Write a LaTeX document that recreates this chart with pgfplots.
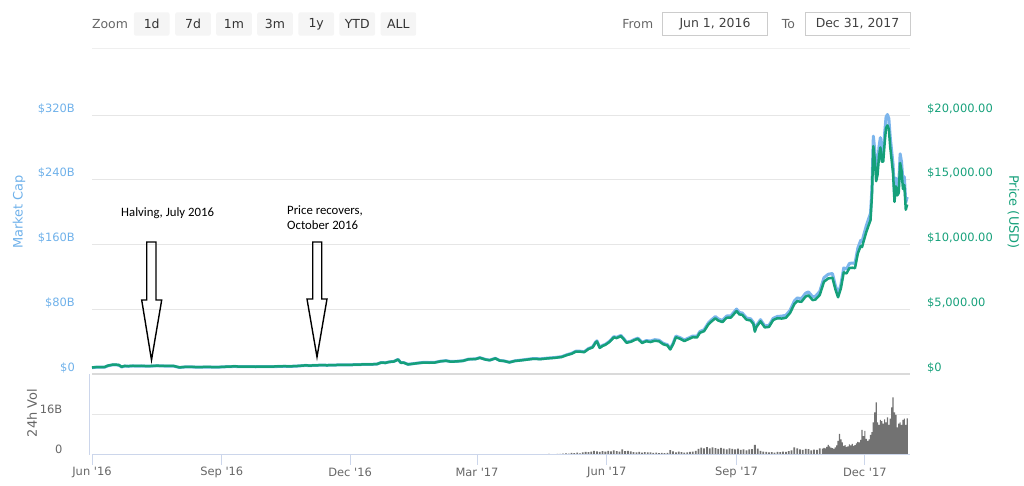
\documentclass[border=0pt]{standalone}
\usepackage{pgfplots}
\pgfplotsset{compat=1.18}
\usepackage{pgfplotstable}
\usepackage{fontspec}
\setmainfont{DejaVu Sans}
\newfontfamily\carlito{Carlito}
\definecolor{capblue}{HTML}{7CB5EC}
\definecolor{capbluetxt}{HTML}{6FB1EA}
\definecolor{pricegreen}{HTML}{15A07A}
\definecolor{gridgray}{HTML}{E6E6E6}
\definecolor{axisblue}{HTML}{CCD6EB}
\definecolor{labelgray}{HTML}{666666}
\definecolor{btnfill}{HTML}{F5F5F5}
\definecolor{boxborder}{HTML}{CCCCCC}
\definecolor{volgray}{HTML}{727272}
\definecolor{sepgray}{HTML}{EFEFEF}
\definecolor{topline}{HTML}{DADADA}

\pgfplotstableread{
day price cap
0 537 8.40
3 573 8.97
6 577 9.03
9 577 9.03
11 672 10.52
12 700 10.96
15 766 11.99
17 757 11.85
19 735 11.50
21 592 9.26
23 657 10.28
26 648 10.14
29 673 10.53
32 658 10.30
35 670 10.49
38 651 10.29
42 655 10.35
46 679 10.73
50 665 10.51
54 655 10.35
58 655 10.35
62 547 8.64
66 587 9.27
70 591 9.34
75 568 8.97
80 581 9.18
85 577 9.12
90 575 9.09
96 606 9.64
101 623 9.91
106 607 9.65
111 609 9.68
116 600 9.54
121 609 9.68
126 612 9.73
131 618 9.83
136 638 10.14
141 630 10.02
146 657 10.45
151 700 11.13
155 688 11.01
159 710 11.36
163 716 11.46
167 711 11.38
172 730 11.68
177 736 11.78
182 745 11.92
187 755 12.08
192 774 12.38
197 779 12.46
202 800 12.80
205 921 14.74
208 900 14.40
211 975 15.60
214 998 16.12
217 1154 18.64
219 903 14.58
221 911 14.71
224 777 12.55
227 818 13.21
231 873 14.10
235 922 14.89
239 915 14.78
243 921 14.87
247 1013 16.36
251 1055 17.04
254 996 16.09
258 1003 16.20
263 1049 16.94
267 1172 18.93
272 1190 19.22
275 1286 20.77
279 1150 18.57
282 1099 17.75
286 1241 20.04
289 1072 17.31
292 1041 16.81
296 937 15.13
300 1045 16.88
304 1086 17.70
308 1140 18.58
313 1207 19.67
318 1184 19.30
323 1240 20.21
328 1281 20.88
333 1348 21.97
337 1507 24.56
340 1597 26.03
343 1762 28.72
346 1760 28.69
349 1723 28.08
352 1962 31.98
355 2091 34.08
357 2450 39.94
358 2550 41.57
360 2052 33.45
362 2199 35.84
364 2287 37.28
367 2515 41.00
370 2863 46.67
372 2806 45.74
375 2958 48.22
377 2720 44.34
379 2445 39.85
382 2518 41.04
385 2670 43.52
387 2750 44.83
390 2427 39.56
393 2568 41.86
396 2501 41.27
399 2601 42.92
402 2562 42.27
405 2333 38.49
408 2233 36.84
410 1929 31.83
412 2330 38.45
414 2871 47.37
417 2754 45.44
420 2576 42.50
423 2726 44.98
426 2875 47.44
429 2855 47.11
431 3213 53.01
434 3342 55.14
437 3850 63.53
439 4066 67.09
442 4331 71.46
444 4160 68.64
447 4040 66.66
450 4371 72.12
453 4385 72.35
457 4892 80.72
459 4630 76.40
461 4600 75.90
464 4230 69.80
467 4161 68.66
469 3882 64.05
470 3300 54.45
471 3637 60.01
474 4100 67.65
477 3630 59.90
480 3666 60.49
483 4200 69.30
486 4338 71.58
489 4310 71.98
492 4370 72.98
495 4750 79.33
498 5430 90.68
500 5650 94.36
503 5600 93.52
506 6006 100.30
508 6100 101.87
511 5734 95.76
513 5780 96.53
516 6130 102.37
519 7150 119.41
522 7400 123.58
525 7459 124.57
527 6600 110.22
529 5950 99.37
531 6640 110.89
533 7870 131.43
535 7790 130.09
537 8200 136.94
539 8230 137.44
541 8200 136.94
543 9330 155.81
545 9900 165.33
546 9820 163.99
547 10230 170.84
549 10980 183.37
551 11600 193.72
552 11900 198.73
553 13750 229.63
554 17600 293.92
555 16600 277.22
556 14900 248.83
557 15400 257.18
558 16800 280.56
559 17500 292.25
560 16400 273.88
561 16400 273.88
562 17800 297.26
563 19000 317.30
564 19200 320.64
565 18900 315.63
566 17500 292.25
567 16500 275.55
568 15500 258.85
569 13300 222.11
570 14500 242.15
571 13800 230.46
572 14000 233.80
573 16300 272.21
574 15700 262.19
575 14300 238.81
576 14600 243.82
577 12700 212.09
578 13100 218.77
}\pricedata

\pgfplotstableread{
day vol
304 0.2
306 0.3
308 0.2
310 0.3
312 0.25
314 0.3
316 0.2
318 0.3
320 0.35
322 0.3
324 0.4
326 0.3
328 0.35
330 0.4
332 0.45
334 0.5
336 0.6
338 0.5
340 0.8
342 0.7
344 0.9
346 0.6
348 1.0
350 1.2
352 1.1
354 1.3
356 1.6
358 1.4
360 1.2
362 1.5
364 1.3
366 1.6
368 1.4
370 1.8
372 1.5
374 1.3
376 2.2
378 1.5
380 1.6
382 1.4
384 1.1
386 1.0
388 1.2
390 0.9
392 1.1
394 1.0
396 1.0
398 0.8
400 0.9
402 0.7
404 0.8
406 0.7
408 0.8
410 1.9
412 1.4
414 1.0
416 1.3
418 1.1
420 0.9
422 1.0
424 1.2
426 1.3
428 1.6
430 2.4
432 2.9
434 2.6
436 3.1
438 2.6
440 3.0
442 2.7
444 2.4
446 2.8
448 2.5
450 2.2
452 2.6
454 2.4
456 2.2
458 2.5
460 2.0
462 2.2
464 1.8
466 2.2
468 2.3
470 4.0
472 2.5
474 1.6
476 1.3
478 1.2
480 1.0
482 1.1
484 0.9
486 1.2
488 1.1
490 1.3
492 1.2
494 1.5
496 1.8
498 3.0
500 2.6
502 2.2
504 2.0
506 2.4
508 2.3
510 1.8
512 2.1
514 2.0
516 2.6
}\voldataA

\pgfplotstableread{
day vol
518 2.5
519 2.8
520 2.6
521 3.2
522 4.0
523 3.4
524 2.9
525 2.7
526 2.4
527 3.0
528 3.8
529 5.6
530 8.4
531 6.2
532 5.0
533 3.6
534 3.9
535 3.2
536 3.4
537 4.2
538 3.8
539 4.4
540 3.6
541 3.9
542 4.6
543 5.2
544 5.0
545 6.0
546 10.0
547 7.5
548 9.6
549 6.4
550 5.6
551 6.2
552 8.0
553 9.1
554 13.0
555 17.0
556 21.0
557 13.0
558 12.0
559 14.0
560 13.5
561 12.5
562 14.2
563 13.0
564 15.0
565 12.0
566 14.5
567 19.0
568 23.0
569 17.0
570 16.0
571 11.0
572 12.5
573 13.0
574 12.0
575 14.0
576 14.5
577 12.0
578 14.6
}\voldataB

\begin{document}
\begin{tikzpicture}[x=1bp,y=1bp]
\path[use as bounding box] (0,0) rectangle (1024,486);

% ---------- top controls ----------
\draw[sepgray, line width=1bp] (92,437) -- (910,437);
\node[text=labelgray, font=\fontsize{12.5}{15}\selectfont] at (110,462) {Zoom};
\foreach \cx/\lab in {151.7/1d, 193/7d, 234/1m, 275/3m, 316.2/1y, 357.2/YTD, 398.4/ALL}{
  \node[fill=btnfill, rounded corners=2bp, minimum width=35.6bp, minimum height=23.4bp, inner sep=0pt, text=black!80, font=\fontsize{12.5}{15}\selectfont] at (\cx,462) {\lab};
}
\node[text=labelgray, font=\fontsize{12.5}{15}\selectfont] at (637.8,462) {From};
\draw[boxborder, line width=1bp] (662.7,450.3) rectangle (767.3,473.7);
\node[text=black!75, font=\fontsize{12.5}{15}\selectfont] at (715,462) {Jun 1, 2016};
\node[text=labelgray, font=\fontsize{12.5}{15}\selectfont] at (788.5,462) {To};
\draw[boxborder, line width=1bp] (805,450.3) rectangle (910,473.7);
\node[text=black!75, font=\fontsize{12.5}{15}\selectfont] at (857.5,462) {Dec 31, 2017};

% ---------- market cap (left axis) ----------
\begin{axis}[
  at={(92bp,111.5bp)}, anchor=south west,
  width=818bp, height=275.7bp, scale only axis,
  xmin=0, xmax=580, ymin=0, ymax=340,
  axis line style={draw=none},
  xtick=\empty,
  ytick={0,80,160,240,320},
  yticklabels={{\$0},{\$80B},{\$160B},{\$240B},{\$320B}},
  ymajorgrids, major grid style={gridgray, line width=1bp},
  ytick style={draw=none},
  yticklabel style={inner sep=0pt, anchor=east, xshift=-17bp, yshift=6.5bp, text=capbluetxt, font=\fontsize{11.5}{13}\selectfont},
  clip=false,
]
\addplot[capblue, line width=3bp, line join=round, no markers] table[x=day,y=cap]{\pricedata};
\end{axis}

% ---------- price (right axis) ----------
\begin{axis}[
  at={(92bp,111.5bp)}, anchor=south west,
  width=818bp, height=275.7bp, scale only axis,
  xmin=0, xmax=580, ymin=0, ymax=21250,
  axis line style={draw=none},
  xtick=\empty,
  ytick={0,5000,10000,15000,20000},
  yticklabels={{\$0},{\$5,000.00},{\$10,000.00},{\$15,000.00},{\$20,000.00}},
  yticklabel pos=right,
  scaled y ticks=false,
  ytick style={draw=none},
  yticklabel style={inner sep=0pt, anchor=west, xshift=17bp, yshift=6.5bp, text=pricegreen, font=\fontsize{11.5}{13}\selectfont},
  clip=false,
]
\addplot[pricegreen, line width=2.5bp, line join=round, no markers] table[x=day,y=price]{\pricedata};
\end{axis}

% ---------- volume ----------
\begin{axis}[
  at={(92bp,31bp)}, anchor=south west,
  width=818bp, height=80.5bp, scale only axis,
  xmin=0, xmax=580, ymin=0, ymax=32.2,
  axis line style={draw=none},
  ytick={0,16},
  yticklabels={0,16B},
  ymajorgrids, major grid style={gridgray, line width=1bp},
  ytick style={draw=none},
  yticklabel style={inner sep=0pt, anchor=east, xshift=-19.5bp, yshift=6bp, text=labelgray, font=\fontsize{11.5}{13}\selectfont},
  xtick={0,92,183,273,365,457,548},
  xticklabels={Jun \textquotesingle16, Sep \textquotesingle16, Dec \textquotesingle16, Mar \textquotesingle17, Jun \textquotesingle17, Sep \textquotesingle17, Dec \textquotesingle17},
  xtick pos=left,
  tick align=outside,
  major tick length=10bp,
  xtick style={axisblue, line width=1bp},
  xticklabel style={inner sep=0pt, anchor=center, yshift=-7bp, text=labelgray, font=\fontsize{11.5}{13}\selectfont},
  clip=false,
]
\addplot[ybar, bar shift=0pt, bar width=1.25, fill=volgray, draw=none] table[x=day,y=vol]{\voldataA};
\addplot[ybar, bar shift=0pt, bar width=0.85, fill=volgray, draw=none] table[x=day,y=vol]{\voldataB};
\draw[axisblue, line width=1bp] (rel axis cs:0,0) -- (rel axis cs:1,0);
\end{axis}
\draw[axisblue, line width=1bp] (89.5,31) -- (89.5,112);
\draw[topline, line width=2bp] (92,111.5) -- (910,111.5);

% ---------- axis titles ----------
\node[rotate=90, text=capbluetxt, font=\fontsize{13}{15}\selectfont] at (19,274) {Market Cap};
\node[rotate=-90, text=pricegreen, font=\fontsize{13}{15}\selectfont] at (1013.5,274) {Price (USD)};
\node[rotate=90, text=labelgray, font=\fontsize{13}{15}\selectfont] at (32,73) {24h Vol};

% ---------- annotations ----------
\node[anchor=west, inner sep=0pt, font=\carlito\fontsize{12.8}{15}\selectfont] at (121,273) {Halving, July 2016};
\node[anchor=west, inner sep=0pt, align=left, font=\carlito\fontsize{12.8}{15}\selectfont] at (287,268.5) {Price recovers,\\October 2016};
\draw[black, line width=1.4bp, line join=miter]
  (146.7,244) -- (156,244) -- (156,186) -- (161.7,186) -- (151.5,126) -- (141.7,186) -- (146.7,186) -- cycle;
\draw[black, line width=1.4bp, line join=miter]
  (312.7,244) -- (321.7,244) -- (321.7,187) -- (327,187) -- (317,129) -- (307,187) -- (312.7,187) -- cycle;
\end{tikzpicture}
\end{document}
